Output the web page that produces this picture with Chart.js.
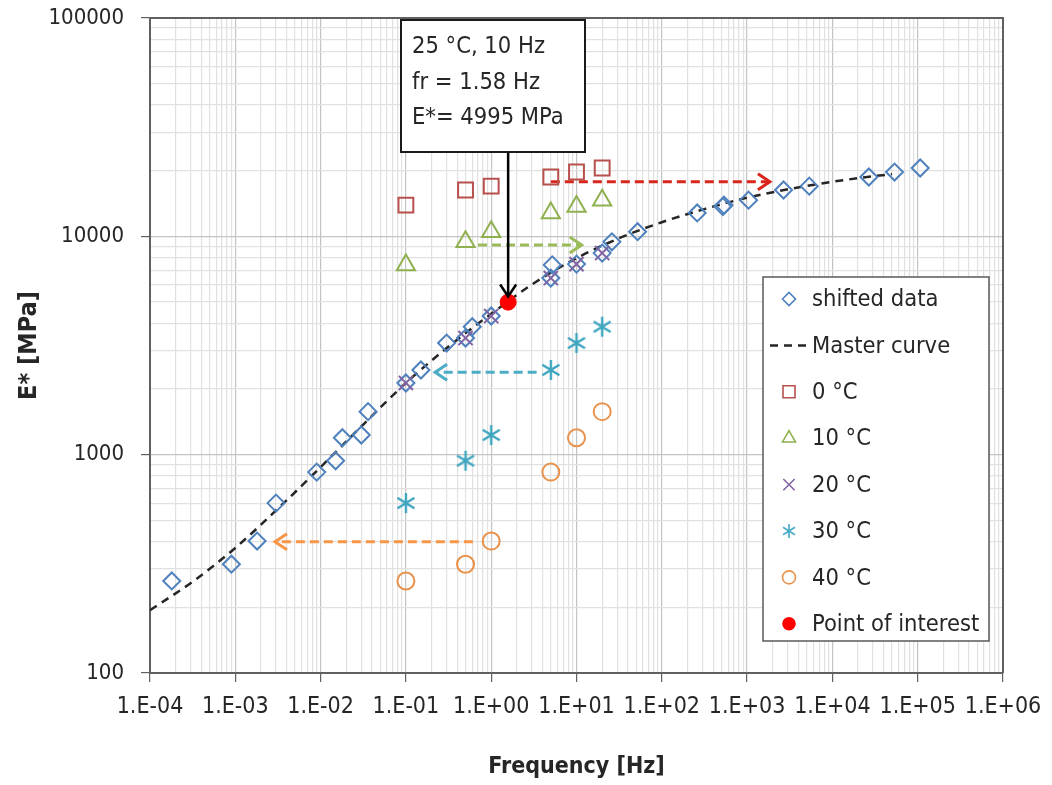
<!DOCTYPE html>
<html>
<head>
<meta charset="utf-8">
<title>Master curve</title>
<script src="https://cdn.jsdelivr.net/npm/chart.js"></script>
<style>
  body { margin: 0; background: #fff; }
  #wrap { width: 1052px; height: 785px; }
</style>
</head>
<body>
<div id="wrap"><canvas id="chart" width="1052" height="785"></canvas></div>
<script>
// axis labels
const xTickLabels = ['1.E-04', '1.E-03', '1.E-02', '1.E-01', '1.E+00', '1.E+01', '1.E+02', '1.E+03', '1.E+04', '1.E+05', '1.E+06'];
const yTickLabels = ['100', '1000', '10000', '100000'];

// measured at each temperature (test frequencies, Hz)
const testFreq = [0.1, 0.5, 1, 5, 10, 20];
const e0C = [13900, 16300, 16980, 18700, 19700, 20550];
const e10C = [7400, 9440, 10500, 12800, 13680, 14650];
const e20C = [2130, 3420, 4315, 6440, 7460, 8380];
const e30C = [600, 938, 1230, 2443, 3245, 3855];
const e40C = [264, 315, 402, 832, 1195, 1574];

// shifted data (reduced frequency, Hz)
const shiftedFreq = [1.8e-4, 9e-4, 1.8e-3, 9e-3, 1.8e-2, 3.6e-2,
  3e-3, 1.5e-2, 3e-2, 0.15, 0.3, 0.6,
  0.1, 0.5, 1, 5, 10, 20,
  5.2, 26, 52, 260, 520, 1040,
  535, 2675, 5350, 26750, 53500, 107000];
const shiftedE = [264, 315, 402, 832, 1195, 1574,
  600, 938, 1230, 2443, 3245, 3855,
  2130, 3420, 4315, 6440, 7460, 8380,
  7400, 9440, 10500, 12800, 13680, 14650,
  13900, 16300, 16980, 18700, 19700, 20550];

// master curve
const masterFreq = [1e-4, 3.16e-4, 1e-3, 3.16e-3, 1e-2, 3.16e-2, 0.1, 0.316, 1, 3.16, 10, 31.6, 100, 316, 1000, 3160, 1e4, 3.16e4, 5e4];
const masterE = [194, 262, 374, 566, 877, 1374, 2130, 3126, 4416, 6095, 7940, 9800, 11600, 13330, 15030, 16480, 17780, 18880, 19280];

// point of interest
const poiFreq = [1.58];
const poiE = [4995];

// shift arrows
const arrowFromF = [5, 0.7, 3.41, 0.61];
const arrowToF = [1850, 11.5, 0.22, 2.92e-3];
const arrowE = [17800, 9120, 2383, 399];
const arrowColors = ['#D9261C', '#9BBB59', '#4BACC6', '#F79646'];

// annotation arrow
const annotF = 1.58;
const annotFromE = 24300;
const annotToE = 5300;
const annotLines = ['25 \u00B0C, 10 Hz', 'fr = 1.58 Hz', 'E*= 4995 MPa'];

const legendLabels = ['shifted data', 'Master curve', '0 \u00B0C', '10 \u00B0C', '20 \u00B0C', '30 \u00B0C', '40 \u00B0C', 'Point of interest'];

const FONT = "'DejaVu Sans Condensed', 'Liberation Sans Narrow', sans-serif";

function pts(xs, ys) {
  return xs.map((x, i) => ({ x: x, y: ys[i] }));
}

function isPow10(v) {
  const l = Math.log10(v);
  return Math.abs(l - Math.round(l)) < 1e-6;
}

function logTicks(minExp, maxExp) {
  const t = [];
  for (let e = minExp; e <= maxExp; e++) {
    for (let s = 1; s <= 9; s++) {
      if (e === maxExp && s > 1) break;
      t.push({ value: s * Math.pow(10, e), major: s === 1 });
    }
  }
  return t;
}

// asterisk marker (vertical + X), like the spreadsheet one
function makeAsterisk(r, color, lw) {
  const c = document.createElement('canvas');
  const s = Math.ceil(2 * r + 4);
  c.width = s; c.height = s;
  const g = c.getContext('2d');
  const m = s / 2;
  g.strokeStyle = color;
  g.lineWidth = lw;
  g.beginPath();
  g.moveTo(m, m - r); g.lineTo(m, m + r);
  const d = r * 0.85;
  g.moveTo(m - d, m - d * 0.62); g.lineTo(m + d, m + d * 0.62);
  g.moveTo(m - d, m + d * 0.62); g.lineTo(m + d, m - d * 0.62);
  g.stroke();
  return c;
}

const starBig = makeAsterisk(10, '#3FA6C0', 2.4);
const starSmall = makeAsterisk(7, '#4BACC6', 1.7);

function markerSet(label, data, style, color, radius, order) {
  return {
    label: label, data: data, showLine: false,
    pointStyle: style, pointRadius: radius, pointBorderColor: color,
    pointBackgroundColor: 'rgba(0,0,0,0)', pointBorderWidth: 2, order: order
  };
}

const datasets = [
  markerSet('shifted data', pts(shiftedFreq, shiftedE), 'rectRot', '#4F81BD', 8.5, 3),
  {
    label: 'Master curve', data: pts(masterFreq, masterE), showLine: true,
    borderColor: '#262626', borderWidth: 2.5, borderDash: [8, 6],
    pointRadius: 0, cubicInterpolationMode: 'monotone', order: 9
  },
  markerSet('0 \u00B0C', pts(testFreq, e0C), 'rect', '#B8504D', 10.5, 4),
  markerSet('10 \u00B0C', pts(testFreq, e10C), 'triangle', '#8FB04F', 10.5, 4),
  markerSet('20 \u00B0C', pts(testFreq, e20C), 'crossRot', '#8064A2', 10, 2),
  markerSet('30 \u00B0C', pts(testFreq, e30C), starBig, '#4BACC6', 10, 4),
  markerSet('40 \u00B0C', pts(testFreq, e40C), 'circle', '#E8914A', 8.5, 4),
  {
    label: 'Point of interest', data: pts(poiFreq, poiE), showLine: false,
    pointStyle: 'circle', pointRadius: 8, pointBackgroundColor: '#FF0000',
    pointBorderColor: '#FF0000', pointBorderWidth: 1, order: 1
  }
];

arrowFromF.forEach((f, i) => {
  datasets.push({
    label: 'arrow' + i, data: [{ x: f, y: arrowE[i] }, { x: arrowToF[i], y: arrowE[i] }],
    showLine: true, borderColor: arrowColors[i], borderWidth: 3, borderDash: [9, 5],
    pointRadius: 0, order: 8
  });
});
datasets.push({
  label: 'annot', data: [{ x: annotF, y: annotFromE }, { x: annotF, y: annotToE }],
  showLine: true, borderColor: '#000', borderWidth: 2.5, pointRadius: 0, order: 0
});

function arrowHead(ctx, x, y, dx, dy, color, lw) {
  const len = Math.hypot(dx, dy);
  const ux = dx / len, uy = dy / len;
  const back = 12, side = 8;
  ctx.save();
  ctx.strokeStyle = color;
  ctx.lineWidth = lw;
  ctx.setLineDash([]);
  ctx.beginPath();
  ctx.moveTo(x - ux * back - uy * side, y - uy * back + ux * side);
  ctx.lineTo(x, y);
  ctx.lineTo(x - ux * back + uy * side, y - uy * back - ux * side);
  ctx.stroke();
  ctx.restore();
}

const extras = {
  id: 'extras',
  beforeDatasetsDraw(chart) {
    const { ctx, chartArea: a } = chart;
    ctx.save();
    ctx.strokeStyle = '#606060';
    ctx.lineWidth = 2;
    ctx.beginPath();
    ctx.moveTo(a.left, a.top); ctx.lineTo(a.right, a.top); ctx.lineTo(a.right, a.bottom);
    ctx.stroke();
    ctx.restore();
  },
  afterDatasetsDraw(chart) {
    const { ctx } = chart;
    const xs = chart.scales.x, ys = chart.scales.y;
    arrowToF.forEach((f, i) => {
      const x1 = xs.getPixelForValue(arrowFromF[i]);
      const x2 = xs.getPixelForValue(f);
      const y = ys.getPixelForValue(arrowE[i]);
      arrowHead(ctx, x2, y, x2 - x1, 0, arrowColors[i], 3);
    });
    const ax = xs.getPixelForValue(annotF);
    arrowHead(ctx, ax, ys.getPixelForValue(annotToE), 0, 1, '#000', 2.5);

    // annotation box
    ctx.save();
    ctx.fillStyle = '#fff';
    ctx.strokeStyle = '#1a1a1a';
    ctx.lineWidth = 2;
    ctx.fillRect(401, 20, 184, 132);
    ctx.strokeRect(401, 20, 184, 132);
    ctx.fillStyle = '#262626';
    ctx.font = '23.5px ' + FONT;
    ctx.textBaseline = 'middle';
    annotLines.forEach((t, i) => ctx.fillText(t, 412, 47 + i * 35.5));
    ctx.restore();

    // legend
    ctx.save();
    ctx.fillStyle = '#fff';
    ctx.strokeStyle = '#595959';
    ctx.lineWidth = 1.5;
    ctx.fillRect(763, 277, 226, 364);
    ctx.strokeRect(763, 277, 226, 364);
    const styles = [
      { pointStyle: 'rectRot', radius: 6.5, color: '#4F81BD' },
      null,
      { pointStyle: 'rect', radius: 8.5, color: '#B8504D' },
      { pointStyle: 'triangle', radius: 7.5, color: '#8FB04F' },
      { pointStyle: 'crossRot', radius: 8, color: '#8064A2' },
      { pointStyle: starSmall, radius: 7, color: '#4BACC6' },
      { pointStyle: 'circle', radius: 6.5, color: '#E8914A' },
      { pointStyle: 'circle', radius: 6, color: '#FF0000', fill: true }
    ];
    ctx.font = '23.5px ' + FONT;
    ctx.textBaseline = 'middle';
    legendLabels.forEach((lab, i) => {
      const y = 299 + i * 46.4;
      const st = styles[i];
      if (!st) {
        ctx.strokeStyle = '#262626';
        ctx.lineWidth = 2.5;
        ctx.setLineDash([8, 6]);
        ctx.beginPath();
        ctx.moveTo(770, y); ctx.lineTo(810, y);
        ctx.stroke();
        ctx.setLineDash([]);
      } else {
        ctx.strokeStyle = st.color;
        ctx.fillStyle = st.fill ? st.color : 'rgba(0,0,0,0)';
        ctx.lineWidth = 1.6;
        Chart.helpers.drawPoint(ctx, { pointStyle: st.pointStyle, radius: st.radius, borderWidth: 1.6, rotation: 0 }, 789, y);
      }
      ctx.fillStyle = '#262626';
      ctx.fillText(lab, 812, y + 1);
    });
    ctx.restore();
  }
};

const gridColor = c => (isPow10(c.tick.value) ? '#c4c4c4' : '#e1e1e1');
const tickColor = c => (isPow10(c.tick.value) ? '#606060' : 'rgba(0,0,0,0)');

new Chart(document.getElementById('chart'), {
  type: 'scatter',
  data: { datasets: datasets },
  options: {
    responsive: false,
    animation: false,
    events: [],
    layout: { padding: { top: 18, right: 49, left: 0, bottom: 0 } },
    plugins: { legend: { display: false }, tooltip: { enabled: false } },
    scales: {
      x: {
        type: 'logarithmic', min: 1e-4, max: 1e6,
        afterBuildTicks: s => { s.ticks = logTicks(-4, 6); },
        afterFit: s => { s.height = 112; s.paddingLeft = 0; s.paddingRight = 0; },
        ticks: {
          autoSkip: false, maxRotation: 0, minRotation: 0, padding: 11,
          color: '#262626', font: { family: FONT, size: 23 },
          callback: v => (isPow10(v) ? xTickLabels[Math.round(Math.log10(v)) + 4] : '')
        },
        grid: { color: gridColor, tickColor: tickColor, tickLength: 9, lineWidth: 1.2 },
        border: { color: '#606060', width: 2 },
        title: {
          display: true, text: 'Frequency [Hz]', color: '#262626',
          font: { family: FONT, size: 23, weight: 'bold' }, padding: { top: 0, bottom: 4 }
        }
      },
      y: {
        type: 'logarithmic', min: 100, max: 100000,
        afterBuildTicks: s => { s.ticks = logTicks(2, 5); },
        afterFit: s => { s.width = 150; s.paddingTop = 0; s.paddingBottom = 0; },
        ticks: {
          autoSkip: false, padding: 17,
          color: '#262626', font: { family: FONT, size: 22 },
          callback: v => (isPow10(v) ? yTickLabels[Math.round(Math.log10(v)) - 2] : '')
        },
        grid: { color: gridColor, tickColor: tickColor, tickLength: 9, lineWidth: 1.2 },
        border: { color: '#606060', width: 2 },
        title: {
          display: true, text: 'E* [MPa]', color: '#262626',
          font: { family: FONT, size: 25, weight: 'bold' }, padding: { top: 14, bottom: 0 }
        }
      }
    }
  },
  plugins: [extras]
});
</script>
</body>
</html>
